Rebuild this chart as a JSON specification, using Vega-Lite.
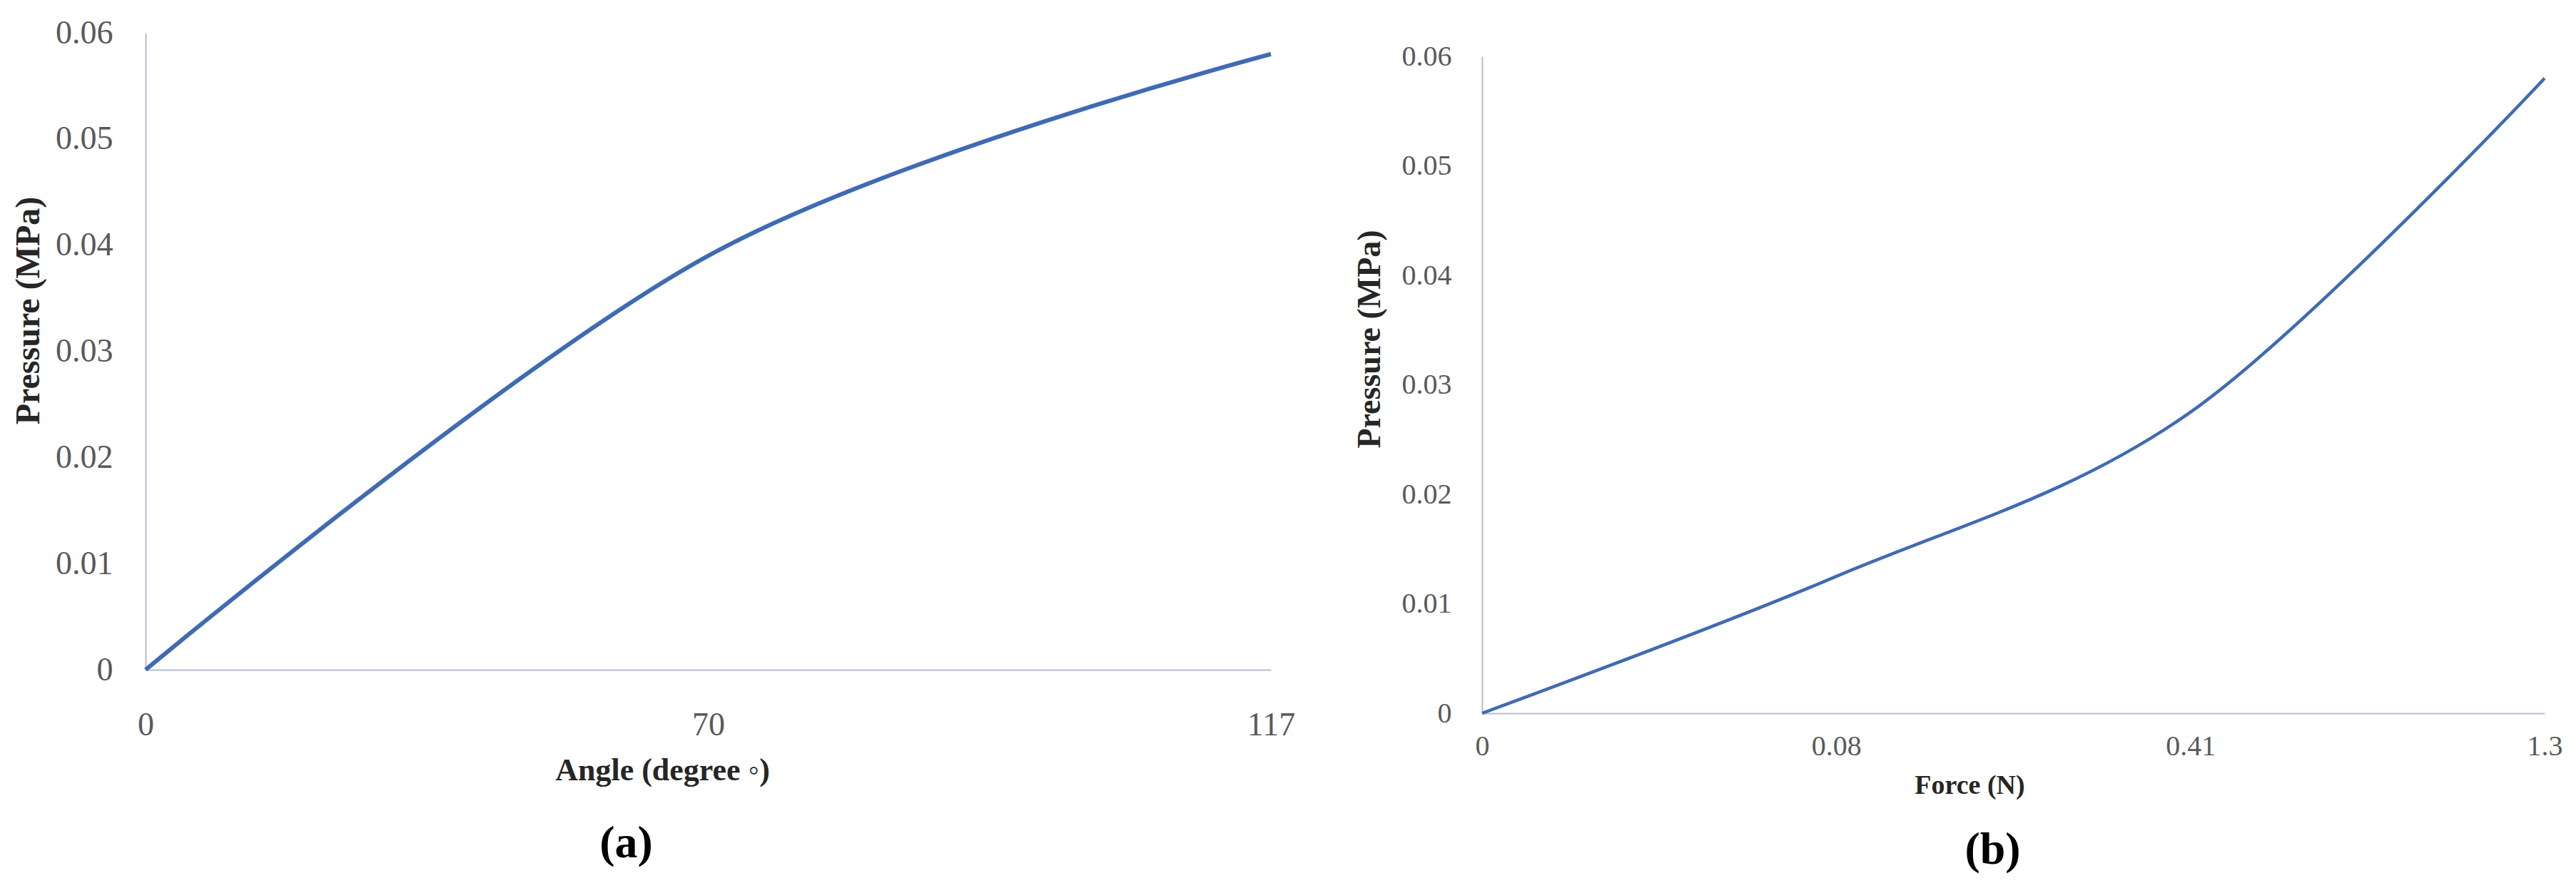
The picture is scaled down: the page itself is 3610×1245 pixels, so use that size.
{
  "$schema": "https://vega.github.io/schema/vega-lite/v6.json",
  "background": "white",
  "padding": {"left": 16, "top": 23, "right": 10, "bottom": 10},
  "config": {
    "view": {"stroke": null},
    "font": "Liberation Serif",
    "axis": {"grid": false, "ticks": false, "domainColor": "#b4c0cc", "domainWidth": 2, "labelColor": "#595959", "labelFont": "Liberation Serif", "titleFont": "Liberation Serif", "titleColor": "#262626", "titleFontWeight": "bold"},
    "title": {"font": "Liberation Serif", "fontWeight": "bold", "color": "#000000"}
  },
  "spacing": 81,
  "hconcat": [
    {
      "width": 1577,
      "height": 893,
      "title": {"text": "(a)", "orient": "bottom", "fontSize": 64, "dx": -115, "offset": 49},
      "data": {"values": [
        {"angle": "0", "pressure": 0},
        {"angle": "70", "pressure": 0.039},
        {"angle": "117", "pressure": 0.058}
      ]},
      "mark": {"type": "line", "interpolate": "cardinal", "tension": 0, "color": "#3f6bb3", "strokeWidth": 6},
      "encoding": {
        "x": {"field": "angle", "type": "ordinal", "sort": null, "scale": {"type": "point", "padding": 0},
          "axis": {"labelAngle": 0, "labelFontSize": 46, "labelPadding": 55, "title": "Angle (degree ◦)", "titleFontSize": 44, "titleX": 724, "titleY": 141, "titleAlign": "center", "titleBaseline": "middle"}},
        "y": {"field": "pressure", "type": "quantitative", "scale": {"domain": [0, 0.06], "nice": false},
          "axis": {"values": [0, 0.01, 0.02, 0.03, 0.04, 0.05, 0.06], "format": ".2~f", "labelFontSize": 46, "labelPadding": 46, "title": "Pressure (MPa)", "titleFontSize": 48, "titleAngle": 270, "titleX": -164, "titleY": 389, "titleAlign": "center", "titleBaseline": "middle"}}
      }
    },
    {
      "spacing": 0,
      "vconcat": [
        {
          "width": 1489,
          "height": 13,
          "data": {"values": []},
          "mark": "point",
          "encoding": {}
        },
        {
          "width": 1489,
          "height": 921,
          "title": {"text": "(b)", "orient": "bottom", "fontSize": 64, "dx": -29, "offset": 40},
          "data": {"values": [
            {"force": "0", "pressure": 0},
            {"force": "0.08", "pressure": 0.0125},
            {"force": "0.41", "pressure": 0.0275},
            {"force": "1.3", "pressure": 0.058}
          ]},
          "mark": {"type": "line", "interpolate": "cardinal", "tension": 0, "color": "#3f6bb3", "strokeWidth": 4.5},
          "encoding": {
            "x": {"field": "force", "type": "ordinal", "sort": null, "scale": {"type": "point", "padding": 0},
              "axis": {"labelAngle": 0, "labelFontSize": 40, "labelPadding": 26, "title": "Force (N)", "titleFontSize": 38, "titleX": 683, "titleY": 101, "titleAlign": "center", "titleBaseline": "middle"}},
            "y": {"field": "pressure", "type": "quantitative", "scale": {"domain": [0, 0.06], "nice": false},
              "axis": {"values": [0, 0.01, 0.02, 0.03, 0.04, 0.05, 0.06], "format": ".2~f", "labelFontSize": 40, "labelPadding": 43, "title": "Pressure (MPa)", "titleFontSize": 46, "titleAngle": 270, "titleX": -158, "titleY": 396, "titleAlign": "center", "titleBaseline": "middle"}}
          }
        }
      ]
    }
  ]
}
